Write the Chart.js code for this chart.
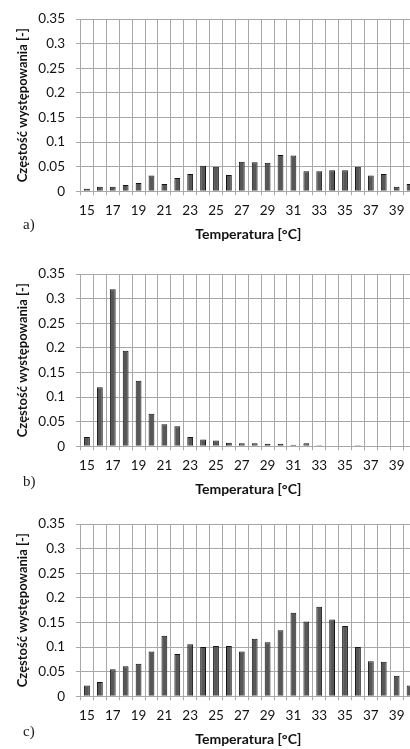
<!DOCTYPE html>
<html>
<head>
<meta charset="utf-8">
<script src="https://cdn.jsdelivr.net/npm/chart.js@4"></script>
<style>
    html, body { margin: 0; padding: 0; background: #ffffff; overflow: hidden; width: 410px; height: 749px; }
    .panel { position: absolute; left: 0; width: 420px; height: 250px; }
    .tag { position: absolute; left: 23px; font-family: 'Liberation Serif', serif; font-size: 15px; line-height: 15px; color: #1a1a1a; }
</style>
</head>
<body>
<div class="panel" style="top:0px"><canvas id="chartA" width="420" height="250"></canvas></div>
<div class="panel" style="top:255px"><canvas id="chartB" width="420" height="250"></canvas></div>
<div class="panel" style="top:505px"><canvas id="chartC" width="420" height="250"></canvas></div>
<div class="tag" style="top:217px">a)</div>
<div class="tag" style="top:474px">b)</div>
<div class="tag" style="top:724px">c)</div>
<script>
const temperatures = ['15', '16', '17', '18', '19', '20', '21', '22', '23', '24', '25', '26', '27',
    '28', '29', '30', '31', '32', '33', '34', '35', '36', '37', '38', '39', '40'];

const freqA = [0.005, 0.009, 0.009, 0.013, 0.017, 0.032, 0.015, 0.027, 0.035, 0.052, 0.050, 0.033, 0.060,
    0.059, 0.058, 0.074, 0.073, 0.041, 0.041, 0.043, 0.043, 0.050, 0.032, 0.035, 0.009, 0.015];

const freqB = [0.019, 0.120, 0.319, 0.194, 0.133, 0.066, 0.045, 0.041, 0.019, 0.014, 0.012, 0.007, 0.006,
    0.006, 0.005, 0.005, 0.003, 0.006, 0.002, 0, 0, 0.002, 0, 0, 0, 0];

const freqC = [0.022, 0.029, 0.055, 0.061, 0.066, 0.091, 0.123, 0.086, 0.106, 0.100, 0.102, 0.102, 0.091,
    0.117, 0.110, 0.134, 0.170, 0.152, 0.182, 0.156, 0.143, 0.100, 0.071, 0.070, 0.042, 0.022];

const yMax = 0.35;
const yStep = 0.05;
const yTitle = 'Częstość występowania [-]';
const xTitle = 'Temperatura [°C]';

const theme = {
    bar: '#575757',
    barBorder: '#141414',
    grid: '#a8a8a8',
    text: '#111111'
};

function makeChart(canvasId, values) {
    const ctx = document.getElementById(canvasId).getContext('2d');
    return new Chart(ctx, {
        type: 'bar',
        data: {
            labels: temperatures,
            datasets: [{
                data: values,
                backgroundColor: theme.bar,
                borderColor: theme.barBorder,
                borderWidth: 1,
                barPercentage: 0.9,
                categoryPercentage: 0.5
            }]
        },
        options: {
            responsive: false,
            animation: false,
            devicePixelRatio: 1,
            layout: { padding: { top: 12, right: 4, bottom: 0, left: 0 } },
            plugins: {
                legend: { display: false },
                tooltip: { enabled: false }
            },
            scales: {
                x: {
                    grid: { color: theme.grid, tickLength: 4, offset: true },
                    border: { color: theme.grid },
                    ticks: {
                        color: theme.text,
                        autoSkip: false,
                        maxRotation: 0,
                        padding: 7,
                        font: { family: 'Lato', size: 13.5 },
                        callback: (v, i) => (i % 2 === 0 ? temperatures[i] : '')
                    },
                    title: {
                        display: true,
                        text: xTitle,
                        color: theme.text,
                        padding: { top: 0, bottom: 7 },
                        font: { family: 'Lato', size: 14, weight: 'bold' }
                    },
                    afterFit: scale => { scale.height = 58.7; }
                },
                y: {
                    min: 0,
                    max: yMax,
                    grid: { color: theme.grid, tickLength: 4.5 },
                    border: { color: theme.grid },
                    ticks: {
                        stepSize: yStep,
                        color: theme.text,
                        padding: 11,
                        font: { family: 'Lato', size: 13.5 },
                        callback: v => String(+v.toFixed(2))
                    },
                    title: {
                        display: true,
                        text: yTitle,
                        color: theme.text,
                        padding: { top: 15, bottom: 0 },
                        font: { family: 'Lato', size: 13, weight: 'bold' }
                    },
                    afterFit: scale => { scale.width = 80.5; }
                }
            }
        }
    });
}

makeChart('chartA', freqA);
makeChart('chartB', freqB);
makeChart('chartC', freqC);
</script>
</body>
</html>
